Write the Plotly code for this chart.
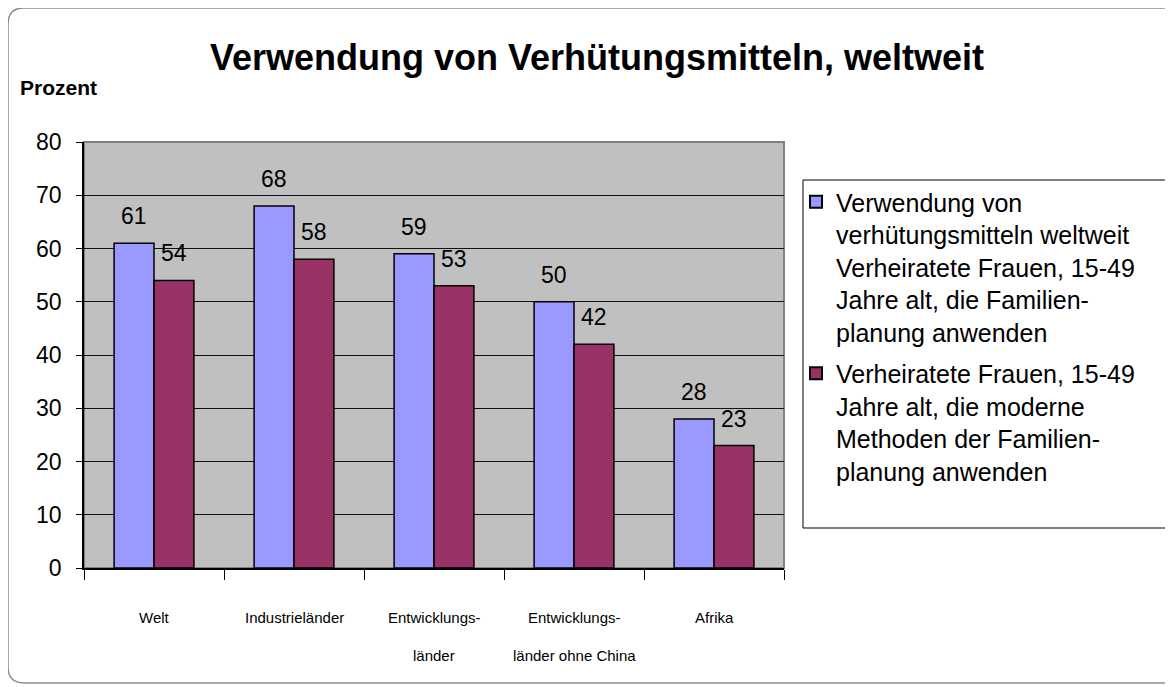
import plotly.graph_objects as go

categories = ["Welt", "Industrieländer", "Entwicklungsländer", "Entwicklungsländer ohne China", "Afrika"]
label_line1 = ["Welt", "Industrieländer", "Entwicklungs-", "Entwicklungs-", "Afrika"]
label_line2 = ["", "", "länder", "länder ohne China", ""]
series1_name = "Verwendung von<br>verhütungsmitteln weltweit<br>Verheiratete Frauen, 15-49<br>Jahre alt, die Familien-<br>planung anwenden"
series2_name = "Verheiratete Frauen, 15-49<br>Jahre alt, die moderne<br>Methoden der Familien-<br>planung anwenden"
series1 = [61, 68, 59, 50, 28]
series2 = [54, 58, 53, 42, 23]
yticks = [0, 10, 20, 30, 40, 50, 60, 70, 80]

FONT = "Liberation Sans, Arial, sans-serif"
OFF = 8  # page body margin offset
W, H = 1173 - OFF, 687 - OFF
L, R, T, B = 84, 784, 142, 568   # reference pixel coordinates of plot area
pw, ph = R - L, B - T

def px(x):
    return (x - L) / pw

def py(y):
    return (B - y) / ph

fig = go.Figure()
fig.add_trace(go.Bar(x=categories, y=series1, name=series1_name, legendgroup="a",
                     marker=dict(color="#9999FF", line=dict(color="black", width=1.5))))
fig.add_trace(go.Bar(x=categories, y=series2, name=series2_name, legendgroup="b",
                     marker=dict(color="#993366", line=dict(color="black", width=1.5))))

annotations = []
for vals, xs in ((series1, -20), (series2, 20)):
    for c, v in zip(categories, vals):
        annotations.append(dict(x=c, y=v, text=str(v), showarrow=False, xshift=xs, yshift=27,
                                yanchor="middle", font=dict(family=FONT, size=23, color="black")))
for c, l1, l2 in zip(categories, label_line1, label_line2):
    annotations.append(dict(x=c, y=py(617), yref="paper", text=l1, showarrow=False,
                            yanchor="middle", font=dict(family=FONT, size=15, color="black")))
    if l2:
        annotations.append(dict(x=c, y=py(655), yref="paper", text=l2, showarrow=False,
                                yanchor="middle", font=dict(family=FONT, size=15, color="black")))
annotations.append(dict(x=px(18), y=py(88), xref="paper", yref="paper", text="<b>Prozent</b>",
                        showarrow=False, xanchor="left", yanchor="middle",
                        font=dict(family=FONT, size=21, color="black")))

# rounded outer border
x0, x1 = px(8), px(1185)
y0, y1 = py(683), py(8)
rx, ry = 16 / pw, 16 / ph
path = (f"M {x0+rx},{y1} L {x1},{y1} L {x1},{y0} L {x0+rx},{y0} "
        f"Q {x0},{y0} {x0},{y0+ry} L {x0},{y1-ry} Q {x0},{y1} {x0+rx},{y1} Z")
shapes = [
    dict(type="path", path=path, xref="paper", yref="paper",
         line=dict(color="#8c8c8c", width=1.5), layer="below"),
    dict(type="rect", xref="paper", yref="paper", x0=0, x1=1, y0=0, y1=1,
         line=dict(color="#808080", width=2), layer="below"),
    dict(type="rect", xref="paper", yref="paper", x0=px(803), x1=px(1180), y0=py(528), y1=py(180),
         line=dict(color="black", width=1), fillcolor="white", layer="below"),
]

fig.update_layout(
    width=W, height=H,
    margin=dict(l=L - OFF, r=W - (R - OFF), t=T - OFF, b=H - (B - OFF)),
    paper_bgcolor="white", plot_bgcolor="#C0C0C0",
    barmode="group", bargap=0.43, bargroupgap=0,
    title=dict(text="<b>Verwendung von Verhütungsmitteln, weltweit</b>",
               x=(597 - OFF) / W, xanchor="center", y=1 - (57 - OFF) / H, yanchor="middle",
               font=dict(family=FONT, size=36, color="black")),
    font=dict(family=FONT, color="black"),
    xaxis=dict(showticklabels=False, ticks="outside", tickson="boundaries", ticklen=10,
               tickcolor="black", showline=True, linecolor="black", linewidth=1.5,
               showgrid=False),
    yaxis=dict(range=[0, 80], tickvals=yticks, ticks="outside", ticklen=6, tickcolor="black",
               showline=True, linecolor="black", linewidth=1.5, gridcolor="#111111",
               gridwidth=1, zeroline=False, tickfont=dict(family=FONT, size=23, color="black"),
               ticklabelstandoff=10),
    legend=dict(x=px(796), xanchor="left", y=py(179), yanchor="top", valign="top",
                font=dict(family=FONT, size=25, color="black"), bgcolor="rgba(0,0,0,0)",
                borderwidth=0, tracegroupgap=6, itemsizing="constant"),
    annotations=annotations,
    shapes=shapes,
    showlegend=True,
)

fig.write_html("out.html")
